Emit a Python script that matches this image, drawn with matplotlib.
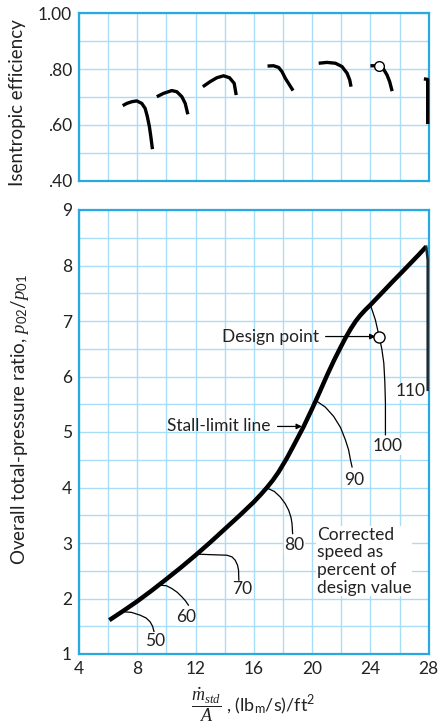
import matplotlib
matplotlib.use("Agg")
import matplotlib.pyplot as plt
import numpy as np

plt.rcParams['font.family'] = ['Lato', 'DejaVu Sans']
plt.rcParams['mathtext.fontset'] = 'custom'
plt.rcParams['mathtext.rm'] = 'Lato'
plt.rcParams['mathtext.it'] = 'Liberation Serif:italic'
plt.rcParams['mathtext.bf'] = 'Lato:bold'

# ---------------- data ----------------
# efficiency curves (mass flow, efficiency) per corrected speed
eff_50_x = [7.0, 7.28, 7.62, 7.96, 8.31, 8.54, 8.69, 8.83, 8.93, 9.04]
eff_50_y = [0.669, 0.677, 0.683, 0.686, 0.677, 0.659, 0.630, 0.594, 0.558, 0.513]
eff_60_x = [9.34, 9.8, 10.37, 10.71, 11.06, 11.29, 11.47]
eff_60_y = [0.701, 0.713, 0.723, 0.719, 0.701, 0.677, 0.638]
eff_70_x = [12.5, 13.0, 13.46, 13.92, 14.33, 14.65, 14.79]
eff_70_y = [0.737, 0.755, 0.769, 0.776, 0.769, 0.749, 0.707]
eff_80_x = [16.94, 17.35, 17.7, 17.93, 18.16, 18.45, 18.69]
eff_80_y = [0.811, 0.812, 0.806, 0.791, 0.767, 0.743, 0.723]
eff_90_x = [20.45, 21.02, 21.6, 22.05, 22.4, 22.58, 22.67]
eff_90_y = [0.821, 0.824, 0.821, 0.809, 0.785, 0.761, 0.737]
eff_100_x = [24.0, 24.27, 24.57, 24.91, 25.14, 25.32, 25.49]
eff_100_y = [0.812, 0.812, 0.812, 0.799, 0.779, 0.755, 0.721]
eff_110_x = [27.67, 27.93, 27.93]
eff_110_y = [0.765, 0.763, 0.603]
design_x = 24.6
design_eff = 0.812
design_pr = 6.72

# stall-limit line
stall_x = [6.08, 7.0, 8.0, 9.0, 10.0, 11.0, 12.0, 13.0, 14.0, 15.0, 16.0, 16.5, 16.9,
           17.3, 17.7, 18.27, 18.8, 19.42, 20.0, 20.5, 21.02, 21.5, 21.94, 22.3, 22.65,
           23.0, 23.3, 23.65, 24.0, 24.8, 25.6, 26.2, 26.75, 27.3, 27.83]
stall_y = [1.61, 1.77, 1.95, 2.145, 2.35, 2.56, 2.78, 3.01, 3.25, 3.49, 3.74, 3.88, 4.00,
           4.13, 4.28, 4.53, 4.79, 5.10, 5.42, 5.71, 6.02, 6.29, 6.52, 6.70, 6.86,
           7.00, 7.10, 7.20, 7.29, 7.51, 7.73, 7.89, 8.04, 8.19, 8.34]

# constant corrected-speed lines (mass flow, pressure ratio)
spd_50_x = [7.1, 7.6, 8.19, 8.6, 8.88, 9.05, 9.15]
spd_50_y = [1.76, 1.75, 1.70, 1.65, 1.58, 1.50, 1.40]
spd_60_x = [9.57, 10.0, 10.37, 10.75, 11.06, 11.3, 11.51]
spd_60_y = [2.24, 2.23, 2.18, 2.11, 2.03, 1.96, 1.88]
spd_70_x = [12.09, 13.0, 14.15, 14.5, 14.72, 14.88, 14.95, 14.97]
spd_70_y = [2.80, 2.79, 2.78, 2.75, 2.69, 2.60, 2.51, 2.33]
spd_80_x = [16.9, 17.4, 17.81, 18.15, 18.39, 18.55, 18.62, 18.66]
spd_80_y = [3.99, 3.93, 3.83, 3.71, 3.59, 3.46, 3.35, 3.17]
spd_90_x = [20.34, 20.9, 21.48, 21.95, 22.28, 22.5, 22.63, 22.74]
spd_90_y = [5.55, 5.45, 5.28, 5.08, 4.86, 4.68, 4.50, 4.37]
spd_100_x = [24.0, 24.34, 24.6, 24.78, 24.92, 24.99, 25.03, 25.03]
spd_100_y = [7.29, 7.02, 6.72, 6.50, 6.24, 5.90, 5.52, 4.95]
spd_110_x = [27.83, 27.93, 27.93]
spd_110_y = [8.34, 8.1, 5.76]

speed_labels = ["50", "60", "70", "80", "90", "100", "110"]
speed_label_x = [9.2, 11.35, 15.18, 18.78, 22.86, 25.15, 26.75]
speed_label_y = [1.24, 1.66, 2.17, 2.96, 4.14, 4.74, 5.73]

eff_ticks = [0.4, 0.6, 0.8, 1.0]
eff_ticklabels = [".40", ".60", ".80", "1.00"]
pr_ticks = [1, 2, 3, 4, 5, 6, 7, 8, 9]
flow_ticks = [4, 8, 12, 16, 20, 24, 28]

# ---------------- style ----------------
SPINE = '#29a9e1'
GRID = '#a9dcf6'
TXT = '#222222'
FS = 12.5

W, H = 440, 724
fig = plt.figure(figsize=(W / 100, H / 100), dpi=100)

ax_l = 79 / W
ax_w = (428.7 - 79) / W
ax1 = fig.add_axes([ax_l, 1 - 180.7 / H, ax_w, (180.7 - 13.3) / H])
ax2 = fig.add_axes([ax_l, 1 - 654 / H, ax_w, (654 - 210) / H])

for ax in (ax1, ax2):
    for s in ax.spines.values():
        s.set_color(SPINE)
        s.set_linewidth(1.6)
        s.set_zorder(5)
    ax.set_xlim(4, 28)
    ax.set_xticks(np.arange(4, 28.1, 2), minor=True)
    ax.tick_params(which='both', length=0, labelsize=FS, colors=TXT, pad=5)
    ax.grid(which='both', color=GRID, linewidth=1.0)
    ax.set_axisbelow(True)

# top panel
ax1.set_ylim(0.4, 1.0)
ax1.set_yticks(eff_ticks)
ax1.set_yticklabels(eff_ticklabels)
ax1.set_yticks(np.arange(0.4, 1.001, 0.1), minor=True)
ax1.set_xticks(flow_ticks)
ax1.set_xticklabels([])
for xs, ys in [(eff_50_x, eff_50_y), (eff_60_x, eff_60_y), (eff_70_x, eff_70_y),
               (eff_80_x, eff_80_y), (eff_90_x, eff_90_y), (eff_100_x, eff_100_y)]:
    ax1.plot(xs, ys, color='black', lw=2.4, solid_capstyle='butt', solid_joinstyle='round')
ax1.plot(eff_110_x, eff_110_y, color='black', lw=2.4, solid_capstyle='butt',
         solid_joinstyle='round', clip_on=False, zorder=6)
ax1.plot([design_x], [design_eff], 'o', ms=7, mfc='white', mec='black', mew=1.0, zorder=6)

# bottom panel
ax2.set_ylim(1, 9)
ax2.set_yticks(pr_ticks)
ax2.set_yticks(np.arange(1, 9.01, 0.5), minor=True)
ax2.set_xticks(flow_ticks)
ax2.plot(stall_x, stall_y, color='black', lw=3.2, solid_capstyle='butt',
         solid_joinstyle='round', zorder=4)
for xs, ys in [(spd_50_x, spd_50_y), (spd_60_x, spd_60_y), (spd_70_x, spd_70_y),
               (spd_80_x, spd_80_y), (spd_90_x, spd_90_y), (spd_100_x, spd_100_y)]:
    ax2.plot(xs, ys, color='black', lw=0.9, zorder=3)
ax2.plot(spd_110_x, spd_110_y, color='#1a2a33', lw=1.8, zorder=6, clip_on=False)
for t, x, y in zip(speed_labels, speed_label_x, speed_label_y):
    ax2.text(x, y, t, fontsize=FS, ha='center', va='center', color=TXT,
             bbox=dict(facecolor='white', edgecolor='none', pad=0.3), zorder=4)
ax2.plot([design_x], [design_pr], 'o', ms=8, mfc='white', mec='black', mew=1.0, zorder=6)

ax2.annotate("Design point", xy=(design_x - 0.25, design_pr), xytext=(20.45, design_pr),
             fontsize=FS, ha='right', va='center', color=TXT,
             arrowprops=dict(arrowstyle='-|>', color='black', lw=0.9, mutation_scale=8,
                             shrinkA=3, shrinkB=0))
ax2.annotate("Stall-limit line", xy=(19.3, 5.1), xytext=(17.15, 5.1),
             fontsize=FS, ha='right', va='center', color=TXT,
             arrowprops=dict(arrowstyle='-|>', color='black', lw=0.9, mutation_scale=8,
                             shrinkA=3, shrinkB=0))
ax2.text(20.34, 3.29, "Corrected\nspeed as\npercent of\ndesign value", fontsize=FS,
         ha='left', va='top', color=TXT, linespacing=1.12,
         bbox=dict(facecolor='white', edgecolor='none', pad=0.5))

# labels
fig.text(18 / W, 1 - 103 / H, "Isentropic efficiency", rotation=90, fontsize=13.5,
         ha='center', va='center', color=TXT)
fig.text(20 / W, 1 - 420 / H, r"Overall total-pressure ratio, $p_{02}/p_{01}$", rotation=90,
         fontsize=13.5, ha='center', va='center', color=TXT)
fig.text(191 / W, 1 - 705 / H, r"$\dfrac{\dot{m}_{std}}{A}$ , (lb$_\mathrm{m}$/s)/ft$^2$",
         fontsize=13, ha='left', va='center', color=TXT)

fig.savefig("out.png", dpi=100)
